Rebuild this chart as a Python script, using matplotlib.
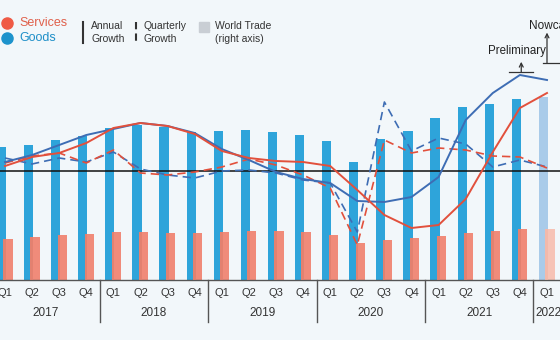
import numpy as np
import matplotlib.pyplot as plt
from matplotlib.lines import Line2D
from matplotlib.patches import Rectangle
import matplotlib.transforms as mtransforms

plt.rcParams['font.family'] = ['Liberation Sans Narrow', 'Liberation Sans', 'DejaVu Sans']

quarters = ['Q1', 'Q2', 'Q3', 'Q4'] * 5 + ['Q1']
years = ['2017', '2018', '2019', '2020', '2021', '2022']

# quarterly trade value, trillion USD (right axis)
goods_value = [4.29, 4.35, 4.52, 4.65, 4.90, 5.00, 4.94, 4.77, 4.81, 4.84, 4.77,
               4.68, 4.48, 3.81, 4.55, 4.81, 5.23, 5.58, 5.68, 5.84, 5.90]
services_value = [1.32, 1.39, 1.45, 1.48, 1.55, 1.55, 1.52, 1.52, 1.55, 1.58, 1.58,
                  1.55, 1.45, 1.19, 1.29, 1.35, 1.42, 1.52, 1.58, 1.65, 1.65]

# growth rates, %
goods_annual = [2.25, 4.0, 6.5, 9.0, 10.5, 12.0, 11.25, 9.5, 5.5, 2.75, -0.25,
                -2.0, -3.0, -7.5, -7.75, -6.5, -1.5, 12.75, 19.5, 24.0, 22.75]
services_annual = [1.25, 3.5, 4.5, 7.0, 10.75, 12.0, 11.25, 9.25, 5.0, 3.25, 2.5,
                   2.25, 1.25, -4.75, -11.0, -14.25, -13.5, -7.0, 4.75, 15.75, 19.5]
goods_quarterly = [3.25, 1.75, 3.25, 2.25, 4.75, 0.5, -1.0, -1.75, 0.0, 0.25, -0.5,
                   -2.25, -3.0, -15.25, 17.25, 5.0, 8.25, 6.75, 1.0, 2.75, 1.0]
services_quarterly = [2.0, 3.75, 4.5, 2.0, 5.25, -0.5, -1.0, -0.25, 1.0, 3.0, 1.5,
                      -1.0, -4.25, -18.5, 7.75, 4.5, 5.75, 5.25, 3.75, 3.5, 0.75]

GOODS_BAR = '#2ea4da'
SERV_BAR = '#f08b7a'
GOODS_LINE = '#3e6db4'
SERV_LINE = '#e2503c'
BG = '#f2f7fa'

n = len(quarters)
x = np.arange(n)

fig = plt.figure(figsize=(5.6, 3.4), dpi=100, facecolor=BG)
ax = fig.add_axes([0, 60 / 340, 1, 280 / 340])
ax.set_facecolor(BG)
ax.set_xlim(-5 / 27.1, 20 + 13 / 27.1)
ax.set_ylim(0, 280 / 31)

w = 0.34
g_col = [GOODS_BAR] * (n - 1) + ['#a9cbe9']
s_col = [SERV_BAR] * (n - 1) + ['#f6c3b6']
s_edge = ['#de7e6d'] * (n - 1) + ['#f1b5a6']
ax.bar(x - 0.13, goods_value, w, color=g_col, zorder=1)
ax.bar(x + 0.11, services_value, w, color=s_col, zorder=2)
# darker shading on the left side of the services bars
ax.bar(x + 0.11 - w / 2 + 0.05, services_value, 0.1, color=s_edge, alpha=0.7, zorder=3)

ax.set_xticks(x)
ax.set_xticklabels(quarters, fontsize=8, color='#333333')
ax.tick_params(axis='x', length=0, pad=6)
ax.set_yticks([])
for s in ['top', 'left', 'right']:
    ax.spines[s].set_visible(False)
ax.spines['bottom'].set_color('#555555')
ax.spines['bottom'].set_linewidth(1)

# year labels and separators under the quarter labels
trans = mtransforms.blended_transform_factory(ax.transData, ax.transAxes)
for i, yr in enumerate(years):
    start = i * 4
    end = min(start + 3, n - 1)
    xc = (start + end) / 2 if end > start else start + 0.05
    ax.text(xc, -33 / 280, yr, transform=trans, ha='center',
            va='center', fontsize=8.5, color='#333333')
    if i > 0:
        ax.add_line(Line2D([start - 0.5, start - 0.5], [0, -42 / 280], transform=trans,
                           color='#555555', lw=1, clip_on=False))

# growth lines on a second axis
ax2 = ax.twinx()
ax2.set_ylim(-109 / 4, 171 / 4)
ax2.set_yticks([])
for s in ax2.spines.values():
    s.set_visible(False)
ax2.axhline(0, color='#111111', lw=1.1, zorder=1)
ax2.plot(x, goods_quarterly, color=GOODS_LINE, lw=1.2, dashes=(5, 3), zorder=2)
ax2.plot(x, services_quarterly, color=SERV_LINE, lw=1.2, dashes=(5, 3), zorder=2)
ax2.plot(x, goods_annual, color=GOODS_LINE, lw=1.4, zorder=3)
ax2.plot(x, services_annual, color=SERV_LINE, lw=1.4, zorder=3)

# preliminary / nowcast markers
ax2.plot([18.6, 19.5], [24.75, 24.75], color='#333333', lw=0.9)
ax2.annotate('', xy=(19.05, 27.3), xytext=(19.05, 24.75),
             arrowprops=dict(arrowstyle='->', color='#333333', lw=0.9, shrinkA=0, shrinkB=0,
                             mutation_scale=7))
ax2.text(18.9, 30.0, 'Preliminary', ha='center', va='center', fontsize=8.3, color='#222222')
ax2.plot([19.85, 20.45], [27.0, 27.0], color='#333333', lw=0.9, clip_on=False)
ax2.annotate('', xy=(20.0, 34.6), xytext=(20.0, 27.0),
             arrowprops=dict(arrowstyle='->', color='#333333', lw=0.9, shrinkA=0, shrinkB=0,
                             mutation_scale=7))
fig.text(529 / 560, 1 - 26 / 340, 'Nowcast', ha='left', va='center', fontsize=8.5,
         color='#222222')


# legend, positioned in pixels
def px(xp, yp):
    return xp / 560, 1 - yp / 340


fig.lines.append(Line2D([px(7, 23)[0]], [px(7, 23)[1]], transform=fig.transFigure,
                        marker='o', markersize=8, color='#ef5a45', ls='none'))
fig.lines.append(Line2D([px(7, 38)[0]], [px(7, 38)[1]], transform=fig.transFigure,
                        marker='o', markersize=8, color='#1d93cc', ls='none'))
fig.text(*px(19, 23), 'Services', fontsize=9, color='#e0604b', va='center')
fig.text(*px(19, 38), 'Goods', fontsize=9, color='#1e8fc8', va='center')

fig.lines.append(Line2D([83 / 560, 83 / 560], [1 - 22 / 340, 1 - 43 / 340],
                        transform=fig.transFigure, color='#333333', lw=1.5))
fig.text(*px(91, 26), 'Annual', fontsize=7.5, color='#333333', va='center')
fig.text(*px(91, 39), 'Growth', fontsize=7.5, color='#333333', va='center')
fig.lines.append(Line2D([136 / 560, 136 / 560], [1 - 22 / 340, 1 - 43 / 340],
                        transform=fig.transFigure, color='#333333', lw=1.5,
                        dashes=(3.5, 2)))
fig.text(*px(143, 26), 'Quarterly', fontsize=7.5, color='#333333', va='center')
fig.text(*px(143, 39), 'Growth', fontsize=7.5, color='#333333', va='center')
fig.patches.append(Rectangle(px(199, 32), 10 / 560, 10 / 340, transform=fig.transFigure,
                             color='#c9ced4', zorder=5))
fig.text(*px(215, 26), 'World Trade', fontsize=7.5, color='#333333', va='center')
fig.text(*px(215, 39), '(right axis)', fontsize=7.5, color='#333333', va='center')

fig.savefig('out.png', dpi=100, facecolor=BG)
